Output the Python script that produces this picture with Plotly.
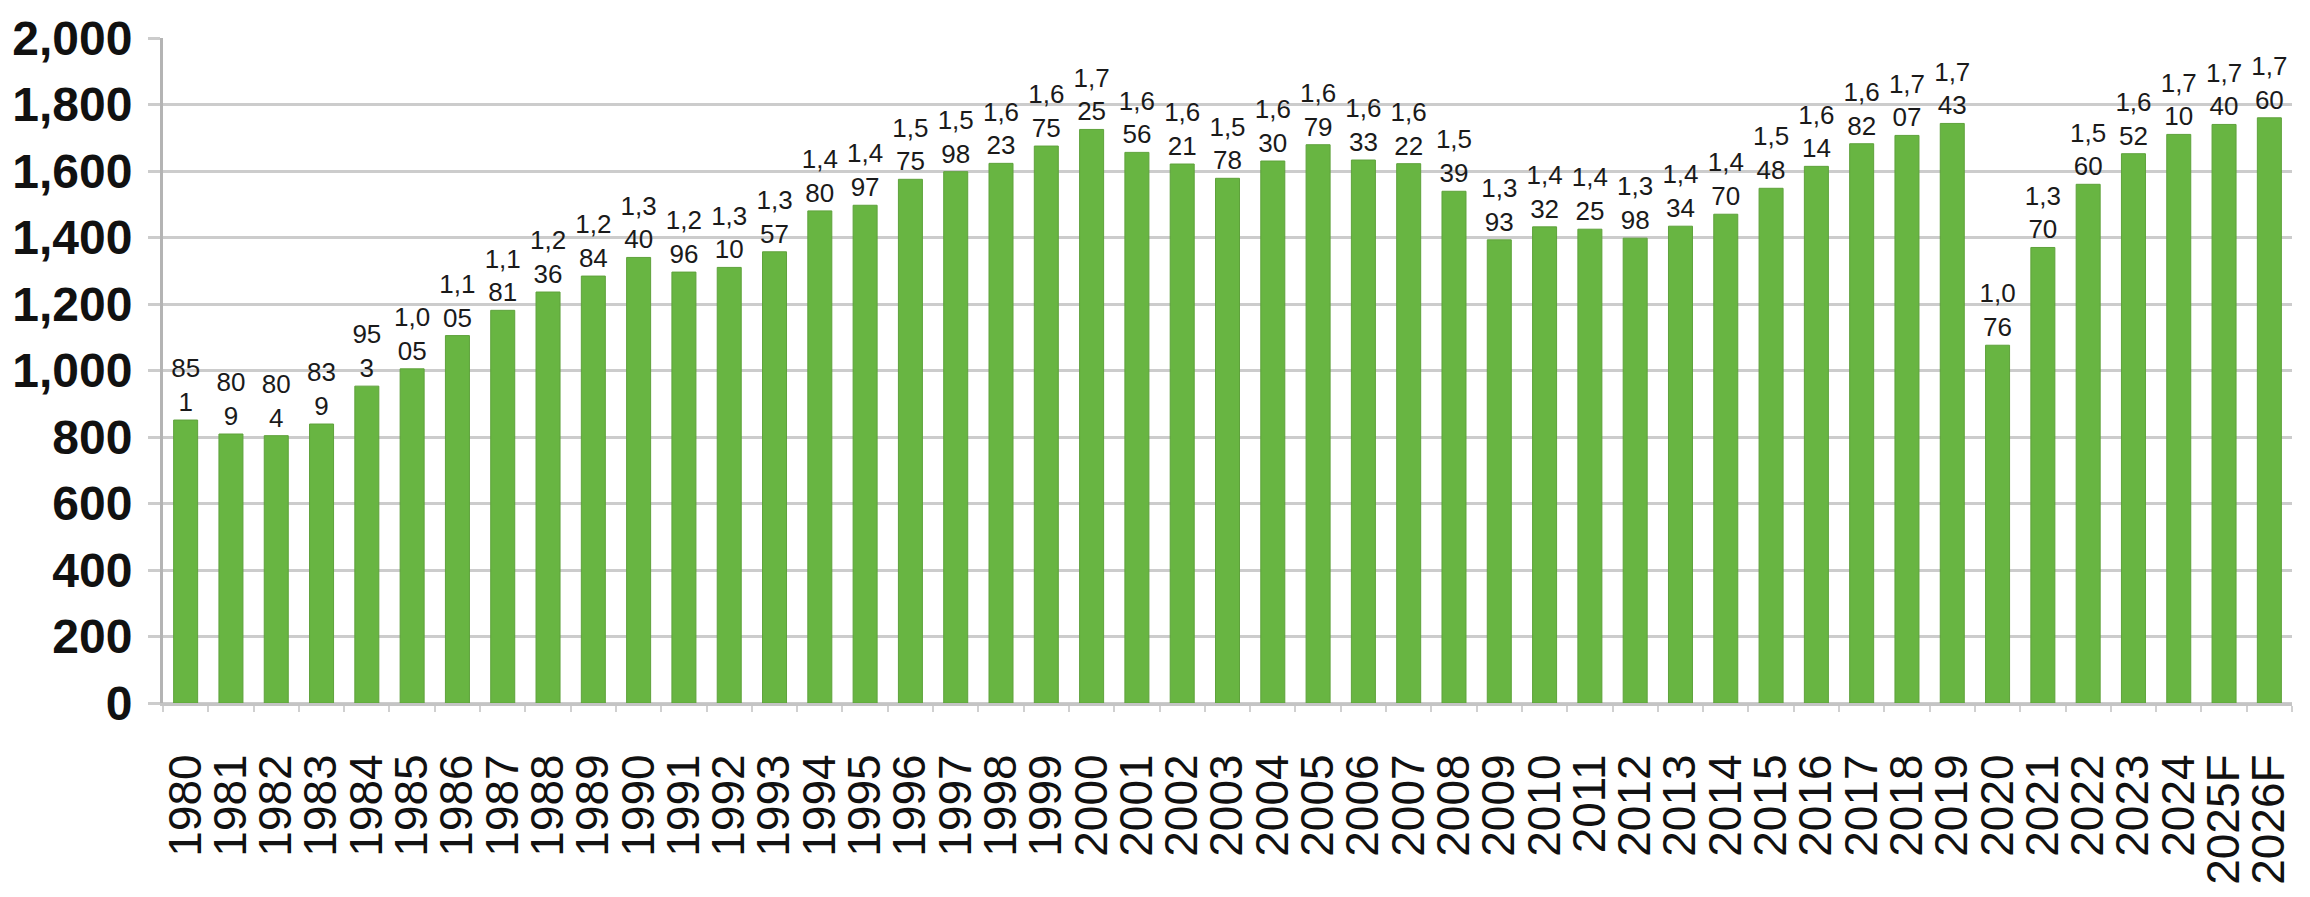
import plotly.graph_objects as go

years = ["1980","1981","1982","1983","1984","1985","1986","1987","1988","1989",
         "1990","1991","1992","1993","1994","1995","1996","1997","1998","1999",
         "2000","2001","2002","2003","2004","2005","2006","2007","2008","2009",
         "2010","2011","2012","2013","2014","2015","2016","2017","2018","2019",
         "2020","2021","2022","2023","2024","2025F","2026F"]
values = [851, 809, 804, 839, 953, 1005, 1105, 1181, 1236, 1284,
          1340, 1296, 1310, 1357, 1480, 1497, 1575, 1598, 1623, 1675,
          1725, 1656, 1621, 1578, 1630, 1679, 1633, 1622, 1539, 1393,
          1432, 1425, 1398, 1434, 1470, 1548, 1614, 1682, 1707, 1743,
          1076, 1370, 1560, 1652, 1710, 1740, 1760]
y_ticks = [0, 200, 400, 600, 800, 1000, 1200, 1400, 1600, 1800, 2000]


def wrap(v):
    s = f"{v:,}"
    n = 3 if len(s) > 3 else 2
    return s[:n] + "<br>" + s[n:]


labels = [wrap(v) for v in values]

fig = go.Figure(go.Bar(
    x=years, y=values, text=labels, textposition="outside",
    constraintext="none",
    textfont=dict(family="Liberation Sans", size=26, color="#1a1a1a"),
    marker=dict(color="#68b542", line=dict(color="#5ea23b", width=1)),
    cliponaxis=False, width=0.53,
))

fig.update_layout(
    width=2310, height=897,
    margin=dict(l=158, r=18, t=28, b=175),
    plot_bgcolor="white", paper_bgcolor="white",
    showlegend=False,
    font=dict(family="Liberation Sans", color="#111111"),
    uniformtext=dict(mode=False),
)
fig.update_xaxes(
    type="category", tickangle=-90,
    tickmode="array", tickvals=years, ticktext=years,
    tickfont=dict(family="Liberation Sans", size=46, color="#111111"),
    showline=True, linecolor="#c4c4c4", linewidth=3,
    ticks="outside", tickson="boundaries", ticklen=6, tickcolor="#d0d0d0", tickwidth=2,
    ticklabelstandoff=30, showgrid=False,
)
fig.update_yaxes(
    range=[0, 2000], tickvals=y_ticks, tickformat=",",
    tickfont=dict(family="Liberation Sans", size=48, color="#111111", weight="bold"),
    showgrid=True, gridcolor="#cccccc", gridwidth=3,
    zeroline=True, zerolinecolor="#cccccc", zerolinewidth=3,
    showline=True, linecolor="#b4b4b4", linewidth=3,
    ticks="outside", ticklen=12, tickcolor="#cccccc", tickwidth=3,
    ticklabelstandoff=6,
)

fig.write_html("out.html")
